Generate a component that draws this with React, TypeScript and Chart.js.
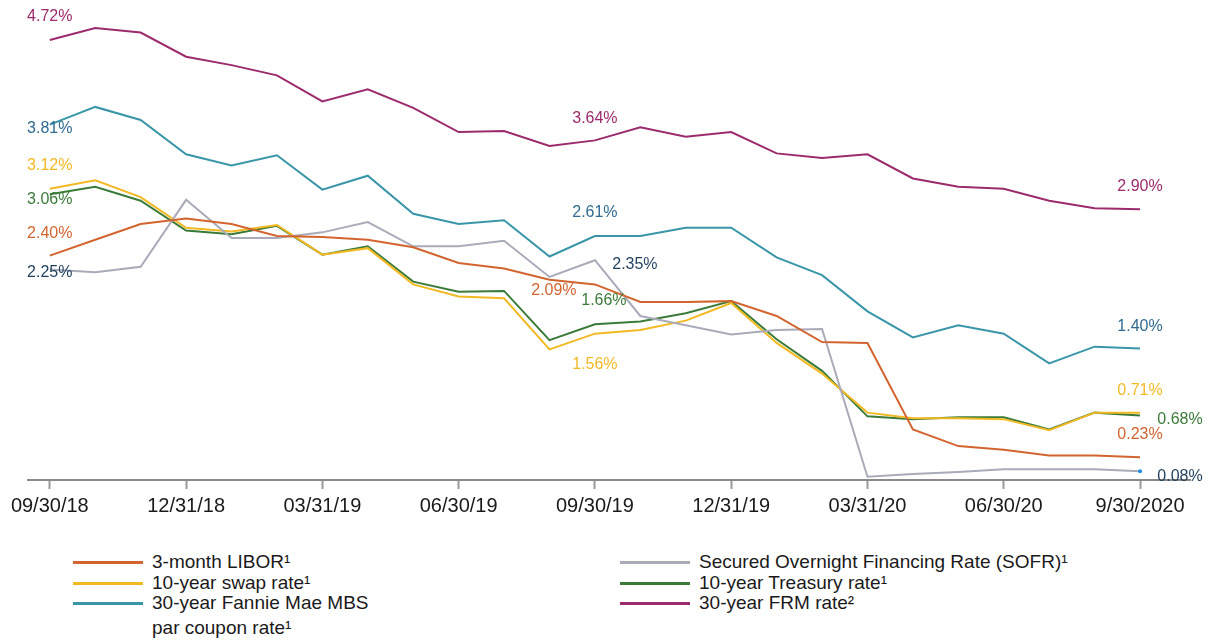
import React, { useEffect, useRef } from "react";
import { Chart, registerables } from "chart.js";

Chart.register(...registerables);

const months: number[] = Array.from({ length: 25 }, (_, i) => i);
const tickLabels: Record<number, string> = {
  0: "09/30/18",
  3: "12/31/18",
  6: "03/31/19",
  9: "06/30/19",
  12: "09/30/19",
  15: "12/31/19",
  18: "03/31/20",
  21: "06/30/20",
  24: "9/30/2020",
};

const libor = [2.40, 2.57, 2.74, 2.80, 2.74, 2.61, 2.60, 2.57, 2.49, 2.32, 2.26, 2.14, 2.09, 1.90, 1.90, 1.91, 1.75, 1.47, 1.46, 0.53, 0.35, 0.31, 0.25, 0.25, 0.23];
const sofr = [2.25, 2.22, 2.28, 3.00, 2.59, 2.59, 2.65, 2.76, 2.50, 2.50, 2.56, 2.17, 2.35, 1.75, 1.65, 1.55, 1.60, 1.61, 0.02, 0.05, 0.07, 0.10, 0.10, 0.10, 0.08];
const swap = [3.12, 3.21, 3.03, 2.70, 2.66, 2.73, 2.41, 2.48, 2.09, 1.96, 1.94, 1.39, 1.56, 1.60, 1.70, 1.89, 1.46, 1.13, 0.71, 0.65, 0.65, 0.64, 0.52, 0.71, 0.71];
const treasury = [3.06, 3.14, 2.99, 2.67, 2.63, 2.72, 2.41, 2.50, 2.12, 2.01, 2.02, 1.49, 1.66, 1.69, 1.78, 1.91, 1.50, 1.16, 0.67, 0.64, 0.66, 0.66, 0.53, 0.71, 0.68];
const mbs = [3.81, 4.00, 3.86, 3.49, 3.37, 3.48, 3.11, 3.26, 2.85, 2.74, 2.78, 2.39, 2.61, 2.61, 2.70, 2.70, 2.38, 2.19, 1.80, 1.52, 1.65, 1.56, 1.24, 1.42, 1.40];
const frm = [4.72, 4.85, 4.80, 4.54, 4.45, 4.34, 4.06, 4.19, 3.99, 3.73, 3.74, 3.58, 3.64, 3.78, 3.68, 3.73, 3.50, 3.45, 3.49, 3.23, 3.14, 3.12, 2.99, 2.91, 2.90];

const C = {
  libor: "#d2652f",
  sofr: "#a9abb9",
  swap: "#f2b923",
  treasury: "#3b7b39",
  mbs: "#3996a8",
  frm: "#9b2b6c",
  blueLabel: "#2f6b8f",
  navyLabel: "#1f3f5d",
};

// value annotations: [dataset index, point index, color, dx, dy]
const annotations: [number, number, string, number, number][] = [
  [5, 0, C.frm, 0, -23],
  [4, 0, C.blueLabel, 0, 4],
  [2, 0, C.swap, 0, -23],
  [3, 0, C.treasury, 0, 5],
  [0, 0, C.libor, 0, -22],
  [1, 0, C.navyLabel, 0, 3],
  [5, 12, C.frm, 0, -22],
  [4, 12, C.blueLabel, 0, -23],
  [1, 12, C.navyLabel, 40, 4],
  [0, 12, C.libor, -41, 6],
  [3, 12, C.treasury, 9, -24],
  [2, 12, C.swap, 0, 31],
  [5, 24, C.frm, 0, -23],
  [4, 24, C.blueLabel, 0, -22],
  [2, 24, C.swap, 0, -22],
  [3, 24, C.treasury, 40, 4],
  [0, 24, C.libor, 0, -23],
  [1, 24, C.navyLabel, 40, 5],
];

const FONT = "'Liberation Sans', Arial, Helvetica, sans-serif";

const labelPlugin = {
  id: "valueLabels",
  afterDatasetsDraw(chart: any) {
    const ctx = chart.ctx;
    const xs = chart.scales.x;
    const ys = chart.scales.y;
    ctx.save();
    ctx.font = `16px ${FONT}`;
    ctx.textAlign = "center";
    ctx.textBaseline = "middle";
    for (const [ds, idx, color, dx, dy] of annotations) {
      const v = chart.data.datasets[ds].data[idx].y;
      const px = xs.getPixelForValue(idx) + dx;
      const py = ys.getPixelForValue(v) + dy;
      ctx.fillStyle = color;
      ctx.fillText(`${v.toFixed(2)}%`, px, py);
    }
    ctx.restore();
  },
};

function series(vals: number[]) {
  return vals.map((v, i) => ({ x: months[i], y: v }));
}

const legendLeft = [
  { color: C.libor, text: "3-month LIBOR¹" },
  { color: C.swap, text: "10-year swap rate¹" },
  { color: C.mbs, text: "30-year Fannie Mae MBS par coupon rate¹" },
];
const legendRight = [
  { color: C.sofr, text: "Secured Overnight Financing Rate (SOFR)¹" },
  { color: C.treasury, text: "10-year Treasury rate¹" },
  { color: C.frm, text: "30-year FRM rate²" },
];

export default function App() {
  const ref = useRef<HTMLCanvasElement | null>(null);
  useEffect(() => {
    if (!ref.current) return;
    const mk = (label: string, vals: number[], color: string, extra: any = {}) => ({
      label,
      data: series(vals),
      borderColor: color,
      backgroundColor: color,
      borderWidth: 2,
      pointRadius: 0,
      tension: 0,
      ...extra,
    });
    const chart = new Chart(ref.current, {
      type: "line",
      data: {
        datasets: [
          mk("3-month LIBOR", libor, C.libor),
          mk("SOFR", sofr, C.sofr, {
            pointRadius: sofr.map((_, i) => (i === sofr.length - 1 ? 2 : 0)),
            pointBackgroundColor: "#1e8fe6",
            pointBorderWidth: 0,
          }),
          mk("10-year swap rate", swap, C.swap),
          mk("10-year Treasury rate", treasury, C.treasury),
          mk("30-year Fannie Mae MBS", mbs, C.mbs),
          mk("30-year FRM rate", frm, C.frm),
        ],
      },
      options: {
        animation: false,
        responsive: false,
        maintainAspectRatio: false,
        layout: { padding: { left: 28, right: 20, top: 14, bottom: 0 } },
        plugins: { legend: { display: false }, tooltip: { enabled: false } },
        scales: {
          x: {
            type: "linear",
            min: -0.48,
            max: 25.1,
            afterBuildTicks: (s: any) => {
              s.ticks = Object.keys(tickLabels).map((k) => ({ value: Number(k) }));
            },
            afterFit: (s: any) => {
              s.paddingLeft = 0;
              s.paddingRight = 0;
              s.height = 50;
            },
            ticks: {
              autoSkip: false,
              maxRotation: 0,
              padding: 5,
              color: "#1a1a1a",
              font: { size: 20, family: FONT },
              callback: (v: any) => tickLabels[Number(v)] ?? "",
            },
            grid: {
              drawOnChartArea: false,
              drawTicks: true,
              tickLength: 9,
              tickColor: "#9a9a9a",
              tickWidth: 2,
            },
            border: { display: true, color: "#8a8a8a", width: 2 },
          },
          y: {
            display: false,
            min: -0.015,
            max: 5.0,
          },
        },
      },
      plugins: [labelPlugin],
    });
    return () => chart.destroy();
  }, []);

  const legendItem = (item: { color: string; text: string }, left: number, top: number, width: number) => (
    <div
      key={item.text}
      style={{ position: "absolute", left, top, display: "flex", alignItems: "flex-start" }}
    >
      <div style={{ width: 70, height: 3, background: item.color, marginTop: 10, marginRight: 9 }} />
      <div style={{ width, lineHeight: "25px", marginTop: -2 }}>{item.text}</div>
    </div>
  );

  return (
    <div style={{ position: "absolute", left: 0, top: 0, width: 1210, height: 641, background: "#fff" }}>
      <canvas ref={ref} width={1210} height={530} style={{ position: "absolute", left: 0, top: 0, width: 1210, height: 530 }} />
      <div style={{ position: "absolute", left: 0, top: 0, fontFamily: FONT, fontSize: 19, color: "#1a1a1a" }}>
        {legendItem(legendLeft[0], 73, 551, 300)}
        {legendItem(legendLeft[1], 73, 572, 300)}
        {legendItem(legendLeft[2], 73, 592, 240)}
        {legendItem(legendRight[0], 620, 551, 500)}
        {legendItem(legendRight[1], 620, 572, 500)}
        {legendItem(legendRight[2], 620, 592, 500)}
      </div>
    </div>
  );
}
